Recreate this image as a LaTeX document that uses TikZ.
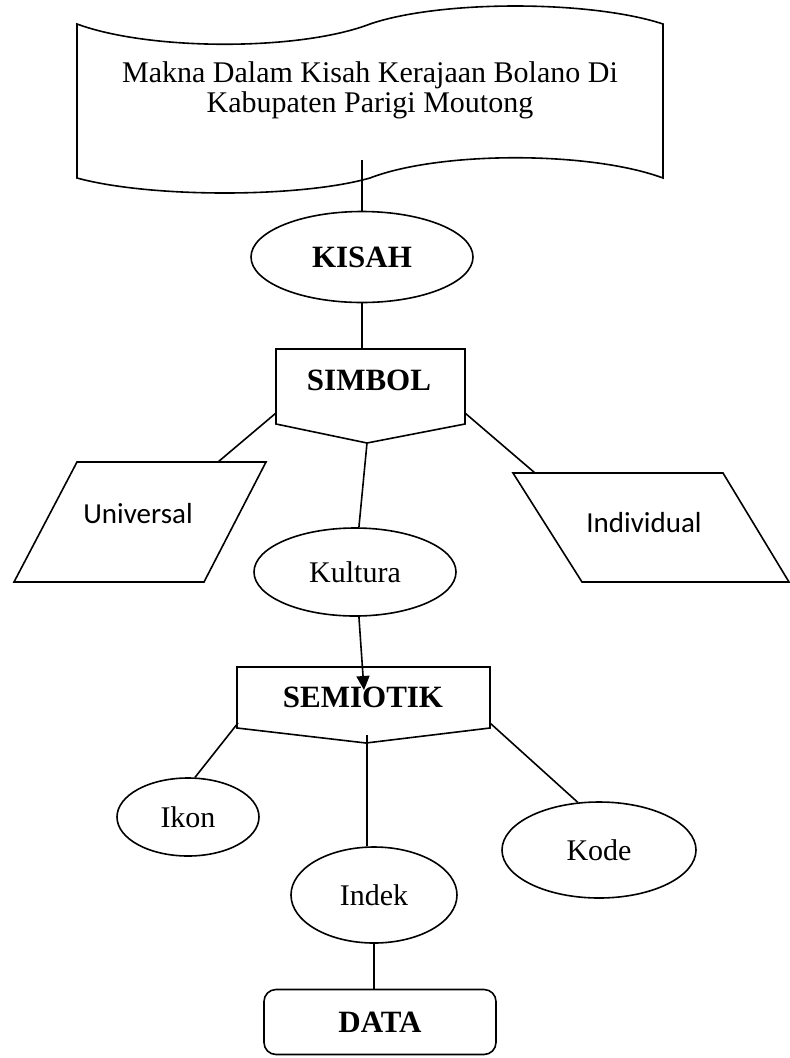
\documentclass[tikz,border=0pt]{standalone}
\usepackage{fontspec}
\setmainfont{Liberation Serif}
\newfontfamily\calibrifont{Carlito}
\usetikzlibrary{shapes.geometric,arrows.meta}

\begin{document}
\begin{tikzpicture}[x=1pt,y=-1pt,line width=1.6pt,
  oval/.style={draw,ellipse,inner sep=0pt,font=\fontsize{30}{34}\selectfont},
  heading/.style={font=\bfseries\fontsize{31}{36}\selectfont},
  plain/.style={font=\fontsize{30}{30}\selectfont},
  slanted/.style={font=\calibrifont\fontsize{29}{34}\selectfont}]
\useasboundingbox (0,0) rectangle (790,1058);
% The scroll
\draw (77,24) .. controls (150,51) and (300,51) .. (370,24)
  .. controls (440,0) and (590,0) .. (663,24) -- (663,178)
  .. controls (590,151) and (440,151) .. (370,178)
  .. controls (300,198) and (150,198) .. (77,178) -- cycle;
\node[plain,align=center] (title) at (370,90) {Makna Dalam Kisah Kerajaan Bolano Di\\Kabupaten Parigi Moutong};
\coordinate (tail) at (362,160);

% KISAH and SIMBOL
\node[oval,heading,minimum width=222,minimum height=91] (kisah) at (362,257) {KISAH};
\draw (276,349) -- (465,349) -- (465,424) -- (367,443) -- (276,424) -- cycle;
\node[heading] (simbol) at (369,380) {SIMBOL};
\coordinate (simbol top) at (362,349);
\coordinate (simbol west) at (276,413);
\coordinate (simbol east) at (465,413);
\coordinate (simbol tip) at (367,443);
\draw (tail) -- (kisah.north);
\draw (kisah.south) -- (simbol top);

% Universal, Kultura, Individual
\draw (77,462) -- (266,462) -- (204,582) -- (14,582) -- cycle;
\node[slanted] (univ) at (138,514) {Universal};
\coordinate (univ top) at (218,462);
\draw (513,473) -- (723,473) -- (789,582) -- (582,582) -- cycle;
\node[slanted] (indiv) at (644,523) {Individual};
\coordinate (indiv top) at (535,473);
\node[oval,minimum width=202,minimum height=88] (kultura) at (355,572) {Kultura};
\draw (simbol west) -- (univ top);
\draw (simbol east) -- (indiv top);
\draw (simbol tip) -- (kultura.85);

% SEMIOTIK
\draw (237,667) -- (490,667) -- (490,728) -- (366,743) -- (237,728) -- cycle;
\node[heading] (semiotik) at (363,697) {SEMIOTIK};
\coordinate (semiotik in) at (364,690);
\coordinate (semiotik west) at (238,723);
\coordinate (semiotik east) at (490,723);
\coordinate (semiotik tip) at (367,735);
\draw[-{Triangle[length=14pt,width=13pt]}] (kultura.275) -- (semiotik in);

% Ikon, Indek, Kode and DATA
\node[oval,minimum width=142,minimum height=78] (ikon) at (188,817) {Ikon};
\node[oval,minimum width=166,minimum height=96] (indek) at (374,895) {Indek};
\node[oval,minimum width=194,minimum height=96] (kode) at (599,850) {Kode};
\node[draw,heading,rounded corners=12pt,minimum width=232,minimum height=65] (data) at (380,1022) {DATA};
\draw (semiotik west) -- (ikon.80);
\draw (semiotik east) -- (kode.114);
\draw (semiotik tip) -- (semiotik tip |- indek.north);
\draw (indek.south) -- (indek.south |- data.north);
\end{tikzpicture}
\end{document}
